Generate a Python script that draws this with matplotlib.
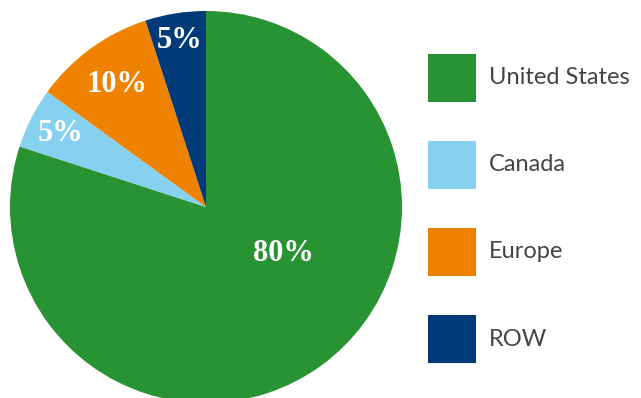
import numpy as np
import matplotlib.pyplot as plt
from matplotlib.patches import Rectangle

regions = ["United States", "Canada", "Europe", "ROW"]
shares = [80, 5, 10, 5]
colors = ["#289332", "#87d1f0", "#ef8200", "#003a78"]

# label placement per wedge: radial distance and angle shift (deg)
label_dist = [0.46, 0.83, 0.77, 0.86]
label_shift = [23, 0, 0, 0]

W, H = 641, 398
fig = plt.figure(figsize=(W / 100, H / 100), dpi=100)
ax = fig.add_axes([10 / W, -5 / H, 392 / W, 392 / H])

wedges, _ = ax.pie(shares, colors=colors, startangle=90, counterclock=False,
                   radius=1.0, wedgeprops=dict(linewidth=0))

for w, val, d, s in zip(wedges, shares, label_dist, label_shift):
    mid = np.deg2rad((w.theta1 + w.theta2) / 2 + s)
    ax.text(d * np.cos(mid), d * np.sin(mid), f"{val}%", color="white",
            ha="center", va="center", fontsize=22, fontweight="bold",
            family="Liberation Serif")

ax.set_xlim(-1, 1)
ax.set_ylim(-1, 1)
ax.set_aspect("equal")
ax.axis("off")

# legend drawn by hand: 48px swatches, 87px row pitch
box, pitch, x0, top = 48, 87, 428, 54
for i, (name, c) in enumerate(zip(regions, colors)):
    y = top + i * pitch
    fig.add_artist(Rectangle((x0 / W, 1 - (y + box) / H), box / W, box / H,
                             transform=fig.transFigure, facecolor=c,
                             edgecolor="none"))
    fig.text((x0 + box + 13) / W, 1 - (y + box / 2) / H, name,
             ha="left", va="center", fontsize=17, family="Lato",
             color="#444444")

fig.savefig("out.png", dpi=100)
